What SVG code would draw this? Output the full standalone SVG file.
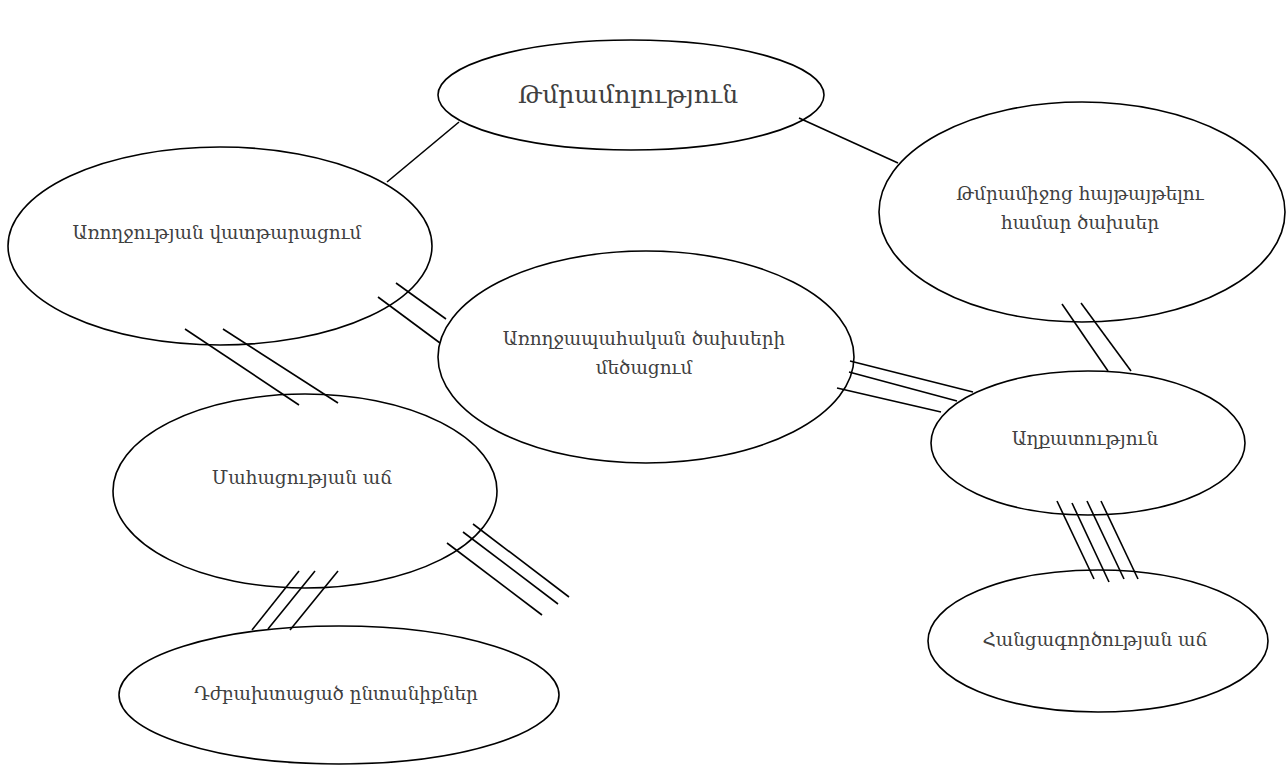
<svg xmlns="http://www.w3.org/2000/svg" width="1288" height="765" viewBox="0 0 1288 765">
<style>
.n{fill:#fff;stroke:#000;stroke-width:1.6}
.t{font-family:"DejaVu Serif","Liberation Serif",serif;font-size:18.4px;fill:#404040;text-anchor:middle;dominant-baseline:central}
.big{font-size:25px}
.c line{stroke:#000;stroke-width:1.6}
</style>
<rect width="1288" height="765" fill="#fff"/>
<g id="n-top"><ellipse class="n" cx="631" cy="95" rx="193" ry="55"/><text class="t big" x="628" y="94">Թմրամոլություն</text></g>
<g id="n-left"><ellipse class="n" cx="220" cy="246" rx="212" ry="99"/><text class="t" x="217" y="232">Առողջության վատթարացում</text></g>
<g id="n-righttop"><ellipse class="n" cx="1082" cy="212" rx="203" ry="110"/><text class="t" x="1080" y="193">Թմրամիջոց հայթայթելու</text><text class="t" x="1080" y="222">համար ծախսեր</text></g>
<g id="n-center"><ellipse class="n" cx="646" cy="357" rx="208" ry="106"/><text class="t" x="644" y="338">Առողջապահական ծախսերի</text><text class="t" x="644" y="367">մեծացում</text></g>
<g id="n-poverty"><ellipse class="n" cx="1088" cy="443" rx="157" ry="72"/><text class="t" x="1085" y="438">Աղքատություն</text></g>
<g id="n-death"><ellipse class="n" cx="305" cy="491" rx="192" ry="97"/><text class="t" x="302" y="477">Մահացության աճ</text></g>
<g id="n-families"><ellipse class="n" cx="339" cy="695" rx="220" ry="69"/><text class="t" x="336" y="693">Դժբախտացած ընտանիքներ</text></g>
<g id="n-crime"><ellipse class="n" cx="1098" cy="641" rx="170" ry="71"/><text class="t" x="1095" y="639">Հանցագործության աճ</text></g>
<g id="connectors" class="c">
<line x1="387" y1="182" x2="459" y2="122"/>
<line x1="799" y1="118" x2="898" y2="163"/>
<line x1="396" y1="283" x2="446" y2="319"/>
<line x1="378" y1="297" x2="440" y2="343"/>
<line x1="185" y1="329" x2="299" y2="405"/>
<line x1="223" y1="329" x2="338" y2="403"/>
<line x1="1062" y1="304" x2="1108" y2="371"/>
<line x1="1081" y1="303" x2="1131" y2="371"/>
<line x1="850" y1="361" x2="973" y2="392"/>
<line x1="849" y1="372" x2="957" y2="401"/>
<line x1="837" y1="388" x2="941" y2="412"/>
<line x1="299" y1="571" x2="252" y2="630"/>
<line x1="315" y1="571" x2="268" y2="629"/>
<line x1="338" y1="571" x2="290" y2="630"/>
<line x1="473" y1="524" x2="569" y2="597"/>
<line x1="463" y1="532" x2="558" y2="604"/>
<line x1="447" y1="543" x2="542" y2="615"/>
<line x1="1057" y1="501" x2="1094" y2="579"/>
<line x1="1072" y1="503" x2="1109" y2="582"/>
<line x1="1087" y1="501" x2="1124" y2="579"/>
<line x1="1101" y1="501" x2="1138" y2="579"/>
</g>
</svg>
